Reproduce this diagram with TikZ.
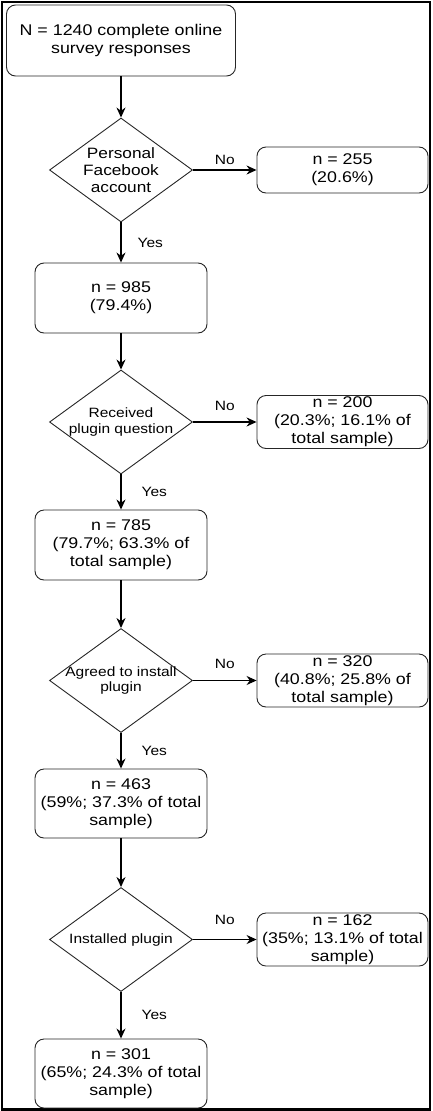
\documentclass[tikz,border=0pt]{standalone}
\usepackage{fontspec}
\setmainfont{Liberation Sans}[FakeStretch=1.15]
\usetikzlibrary{shapes.geometric,arrows.meta}

\begin{document}
\begin{tikzpicture}[x=1pt, y=-1pt,
  box/.style = {draw=black!85, line width=0.9pt, rounded corners=9pt, align=center, minimum width=172pt, minimum height=#1, inner sep=1pt, font=\fontsize{15.5}{18}\selectfont},
  box/.default = 70pt,
  decision/.style = {draw=black!85, line width=0.9pt, diamond, minimum width=143pt, minimum height=104pt, inner sep=0pt},
  small/.style = {align=center, font=\fontsize{13.5}{16}\selectfont},
  arr/.style = {line width=1.2pt, -{Stealth[length=10pt, width=9pt]}},
  yes/.style = {midway, right=#1, inner sep=1pt, font=\fontsize{13.5}{15}\selectfont},
  yes/.default = 19pt,
  no/.style = {midway, above=#1, inner sep=1pt, font=\fontsize{13.5}{15}\selectfont},
  no/.default = 10pt]

\useasboundingbox (0,0) rectangle (432,1111);

% Frame
\draw[line width=2.5pt] (2,2) rectangle (430,1109.5);

% Main column
\node[box, minimum width=229pt, minimum height=71pt] (start) at (121, 40.5) {N = 1240 complete online\\survey responses};
\node[decision, label={[align=center, font=\fontsize{15}{17}\selectfont]center:Personal\\Facebook\\account}] (fb) at (121, 170) {};
\node[box] (fbyes) at (121, 298) {n = 985\\(79.4\%)};
\node[decision, label={[small]center:Received\\plugin question}] (asked) at (121, 422) {};
\node[box] (askedyes) at (121, 545) {n = 785\\(79.7\%; 63.3\% of\\total sample)};
\node[decision, label={[small]center:Agreed to install\\plugin}] (agreed) at (121, 680.5) {};
\node[box, minimum height=69pt] (agreedyes) at (121, 803.5) {n = 463\\(59\%; 37.3\% of total\\sample)};
\node[decision, label={[small]center:Installed plugin}] (installed) at (121, 939.5) {};
\node[box, minimum height=69pt] (installedyes) at (121, 1073.5) {n = 301\\(65\%; 24.3\% of total\\sample)};

% Side column
\node[box, minimum width=171pt, minimum height=46pt] (fbno) at (342.5, 170) {n = 255\\(20.6\%)};
\node[box, minimum width=171pt, minimum height=53pt] (askedno) at (342.5, 422) {n = 200\\(20.3\%; 16.1\% of\\total sample)};
\node[box, minimum width=171pt, minimum height=53pt] (agreedno) at (342.5, 680.5) {n = 320\\(40.8\%; 25.8\% of\\total sample)};
\node[box, minimum width=171pt, minimum height=53pt] (installedno) at (342.5, 939.5) {n = 162\\(35\%; 13.1\% of total\\sample)};

% Arrows
\draw[arr] (start) -- (fb);
\draw[arr] (fb) -- node[yes=15pt] {Yes} (fbyes);
\draw[arr] (fb) -- node[no=4pt] {No} (fbno);
\draw[arr] (fbyes) -- (asked);
\draw[arr] (asked) -- node[yes] {Yes} (askedyes);
\draw[arr] (asked) -- node[no] {No} (askedno);
\draw[arr] (askedyes) -- (agreed);
\draw[arr] (agreed) -- node[yes] {Yes} (agreedyes);
\draw[arr] (agreed) -- node[no] {No} (agreedno);
\draw[arr] (agreedyes) -- (installed);
\draw[arr] (installed) -- node[yes] {Yes} (installedyes);
\draw[arr] (installed) -- node[no=13pt] {No} (installedno);

\end{tikzpicture}
\end{document}
